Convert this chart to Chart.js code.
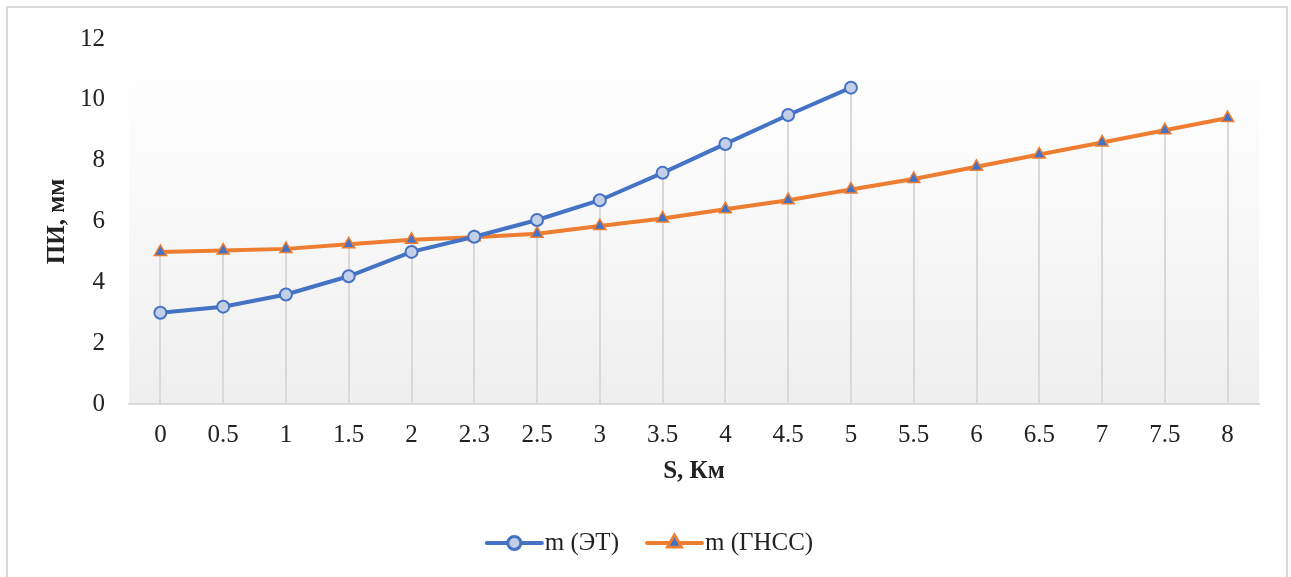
<!DOCTYPE html>
<html>
<head>
<meta charset="utf-8">
<script src="https://cdn.jsdelivr.net/npm/chart.js@4.4.1/dist/chart.umd.min.js"></script>
<style>
  html, body { margin: 0; padding: 0; background: #fff; }
  #wrap { width: 1291px; height: 577px; position: relative; }
</style>
</head>
<body>
<div id="wrap"><canvas id="chart"></canvas></div>
<script>
const distLabels = ['0','0.5','1','1.5','2','2.3','2.5','3','3.5','4','4.5','5','5.5','6','6.5','7','7.5','8'];
const etValues = [3.0, 3.2, 3.6, 4.2, 5.0, 5.5, 6.05, 6.7, 7.6, 8.55, 9.5, 10.4, null, null, null, null, null, null];
const gnssValues = [5.0, 5.05, 5.1, 5.25, 5.4, 5.48, 5.6, 5.85, 6.1, 6.4, 6.7, 7.05, 7.4, 7.8, 8.2, 8.6, 9.0, 9.4];
const seriesNames = ['m (ЭТ)', 'm (ГНСС)'];

const FONT = '"Liberation Serif", "Times New Roman", serif';
const BLUE = '#4472c4';
const ORANGE = '#ed7d31';
const GRID = '#d9d9d9';

// frame + soft gradient behind the plot
const backdrop = {
  id: 'backdrop',
  beforeDraw(chart) {
    const { ctx, chartArea: a } = chart;
    ctx.save();
    ctx.strokeStyle = GRID;
    ctx.lineWidth = 2;
    ctx.strokeRect(7, 7, 1280, 620);
    const g = ctx.createLinearGradient(0, a.top, 0, a.bottom);
    g.addColorStop(0, '#ffffff');
    g.addColorStop(0.2, '#fdfdfd');
    g.addColorStop(1, '#efefef');
    ctx.fillStyle = g;
    ctx.fillRect(a.left, a.top, a.right - a.left, a.bottom - a.top);
    ctx.restore();
  }
};

// vertical drop lines from the highest point of each category down to zero
const dropLines = {
  id: 'dropLines',
  beforeDatasetsDraw(chart) {
    const { ctx, scales: { x, y } } = chart;
    ctx.save();
    ctx.strokeStyle = GRID;
    ctx.lineWidth = 2;
    distLabels.forEach((_, i) => {
      const vals = chart.data.datasets.map(d => d.data[i]).filter(v => v != null);
      if (!vals.length) return;
      const px = Math.round(x.getPixelForValue(i));
      ctx.beginPath();
      ctx.moveTo(px, y.getPixelForValue(Math.max(...vals)));
      ctx.lineTo(px, y.getPixelForValue(0));
      ctx.stroke();
    });
    ctx.restore();
  }
};

// Excel-like legend: line segment with the marker in the middle
const lineLegend = {
  id: 'lineLegend',
  afterDraw(chart) {
    const { ctx } = chart;
    const segW = 55, gap = 3, itemGap = 28, yMid = 543;
    ctx.save();
    ctx.font = '25px ' + FONT;
    ctx.textBaseline = 'middle';
    const widths = chart.data.datasets.map(d => segW + gap + ctx.measureText(d.label).width);
    let xPos = 650 - (widths.reduce((s, w) => s + w, 0) + itemGap * (widths.length - 1)) / 2;
    chart.data.datasets.forEach((d, i) => {
      ctx.strokeStyle = d.borderColor;
      ctx.lineWidth = d.borderWidth;
      ctx.lineCap = 'round';
      ctx.beginPath();
      ctx.moveTo(xPos, yMid);
      ctx.lineTo(xPos + segW, yMid);
      ctx.stroke();
      Chart.helpers.drawPoint(ctx, {
        pointStyle: d.pointStyle,
        radius: d.pointRadius,
        borderWidth: d.pointBorderWidth
      }, xPos + segW / 2, yMid);
      ctx.fillStyle = d.pointBackgroundColor;
      ctx.strokeStyle = d.pointBorderColor;
      ctx.lineWidth = d.pointBorderWidth;
      ctx.fill();
      ctx.stroke();
      ctx.fillStyle = '#222';
      ctx.font = '25px ' + FONT;
      ctx.fillText(d.label, xPos + segW + gap, yMid);
      xPos += widths[i] + itemGap;
    });
    ctx.restore();
  }
};

new Chart(document.getElementById('chart'), {
  type: 'line',
  data: {
    labels: distLabels,
    datasets: [
      {
        label: seriesNames[0],
        data: etValues,
        borderColor: BLUE,
        borderWidth: 4,
        pointStyle: 'circle',
        pointRadius: 6,
        pointBackgroundColor: '#c3cfe6',
        pointBorderColor: BLUE,
        pointBorderWidth: 2,
        spanGaps: false,
        order: 1
      },
      {
        label: seriesNames[1],
        data: gnssValues,
        borderColor: ORANGE,
        borderWidth: 4,
        pointStyle: 'triangle',
        pointRadius: 7,
        pointBackgroundColor: BLUE,
        pointBorderColor: ORANGE,
        pointBorderWidth: 1.5,
        order: 2
      }
    ]
  },
  options: {
    responsive: true,
    maintainAspectRatio: false,
    animation: false,
    events: [],
    layout: { padding: { left: 0, right: 32, top: 36, bottom: 0 } },
    plugins: {
      legend: { display: false },
      tooltip: { enabled: false }
    },
    elements: { line: { tension: 0 } },
    scales: {
      x: {
        offset: true,
        grid: { display: false, drawTicks: false, offset: true },
        border: { display: true, color: GRID, width: 2 },
        ticks: { color: '#222', padding: 16, font: { family: FONT, size: 25 }, maxRotation: 0, autoSkip: false },
        title: { display: true, text: 'S, Км', color: '#222', font: { family: FONT, size: 25, weight: 'bold' }, padding: { bottom: 90 } },
        afterFit: s => { s.height = 173; }
      },
      y: {
        min: 0,
        max: 12,
        grid: { display: false, drawTicks: false },
        border: { display: false },
        ticks: { stepSize: 2, color: '#222', padding: 24, font: { family: FONT, size: 25 } },
        title: { display: true, text: 'ПИ, мм', color: '#222', font: { family: FONT, size: 25, weight: 'bold' }, padding: { top: 43 } },
        afterFit: s => { s.width = 129; }
      }
    }
  },
  plugins: [backdrop, dropLines, lineLegend]
});
</script>
</body>
</html>
